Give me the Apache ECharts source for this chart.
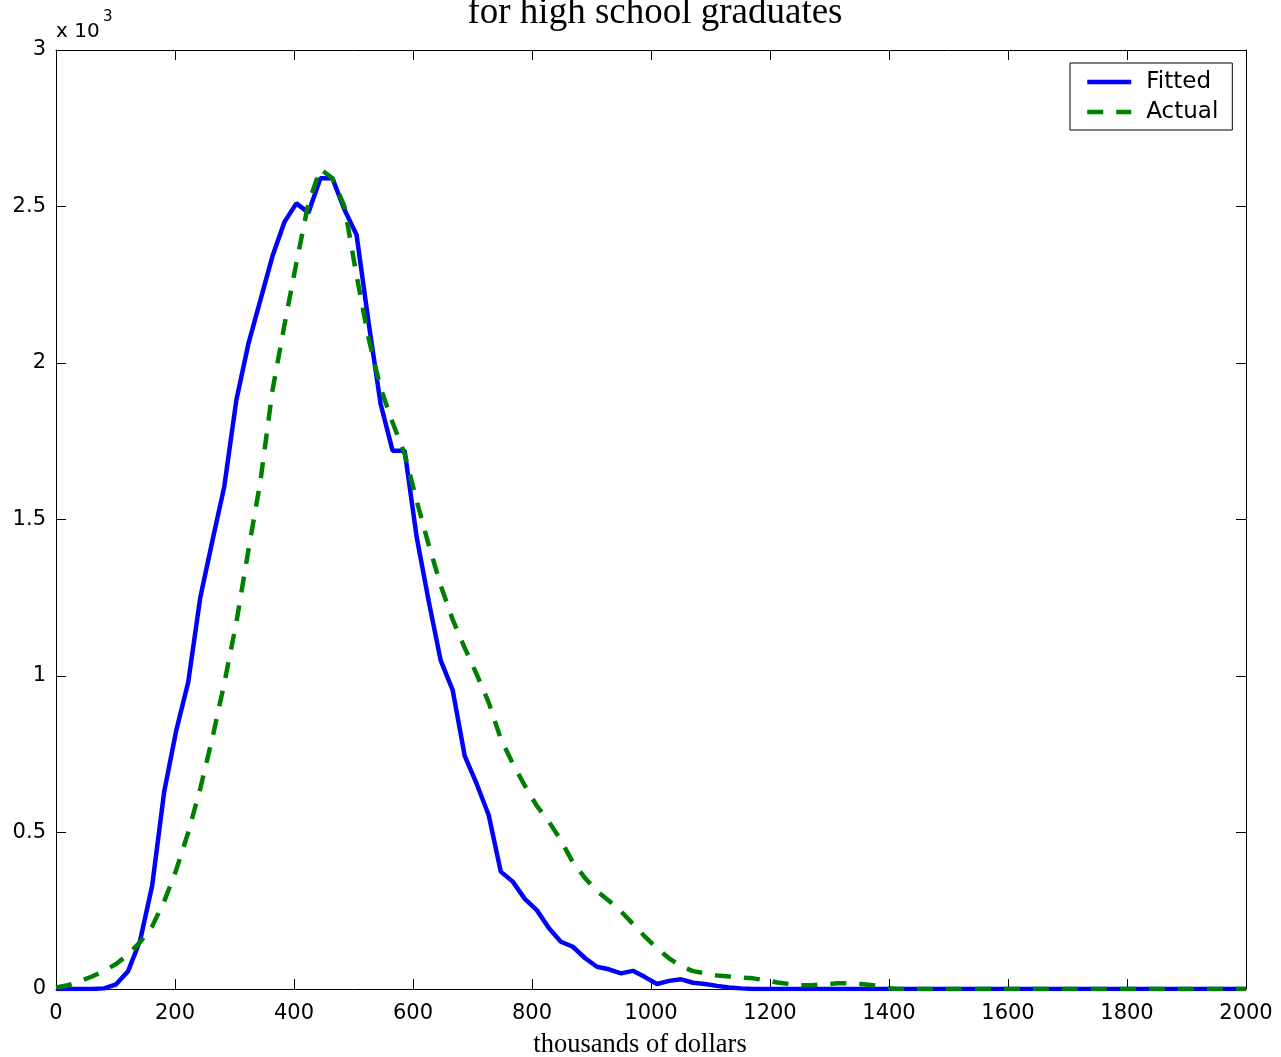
<!DOCTYPE html>
<html>
<head>
<meta charset="utf-8">
<script src="https://cdn.jsdelivr.net/npm/echarts@6/dist/echarts.min.js"></script>
<style>
  html, body { margin: 0; padding: 0; background: #ffffff; }
  #chart { width: 1281px; height: 1057px; }
</style>
</head>
<body>
<div id="chart"></div>
<script>
// Lifetime earnings grid, thousands of dollars
const earnings = [
  0, 20.2, 40.4, 60.6, 80.8, 101.0, 121.2, 141.4, 161.6, 181.8,
  202.0, 222.2, 242.4, 262.6, 282.8, 303.0, 323.2, 343.4, 363.6, 383.8,
  404.0, 424.2, 444.4, 464.6, 484.8, 505.1, 525.3, 545.5, 565.7, 585.9,
  606.1, 626.3, 646.5, 666.7, 686.9, 707.1, 727.3, 747.5, 767.7, 787.9,
  808.1, 828.3, 848.5, 868.7, 888.9, 909.1, 929.3, 949.5, 969.7, 989.9,
  1010.1, 1030.3, 1050.5, 1070.7, 1090.9, 1111.1, 1131.3, 1151.5, 1171.7, 1191.9,
  1212.1, 1232.3, 1252.5, 1272.7, 1292.9, 1313.1, 1333.3, 1353.5, 1373.7, 1393.9,
  1414.1, 1434.3, 1454.5, 1474.7, 1494.9, 1515.2, 1535.4, 1555.6, 1575.8, 1596.0,
  1616.2, 1636.4, 1656.6, 1676.8, 1697.0, 1717.2, 1737.4, 1757.6, 1777.8, 1798.0,
  1818.2, 1838.4, 1858.6, 1878.8, 1899.0, 1919.2, 1939.4, 1959.6, 1979.8, 2000
];

// Counts in thousands (axis shows x 10^3)
const fitted = [
  0, 0, 0, 0, 0.002, 0.015, 0.057, 0.155, 0.33, 0.63,
  0.825, 0.98, 1.25, 1.43, 1.605, 1.88, 2.06, 2.20, 2.34, 2.45,
  2.51, 2.48, 2.59, 2.59, 2.49, 2.41, 2.13, 1.87, 1.72, 1.72,
  1.445, 1.24, 1.05, 0.955, 0.745, 0.655, 0.555, 0.375, 0.343, 0.288,
  0.252, 0.195, 0.151, 0.135, 0.099, 0.071, 0.063, 0.05, 0.058, 0.038,
  0.016, 0.026, 0.031, 0.02, 0.016, 0.01, 0.005, 0.002, 0, 0,
  0, 0, 0, 0, 0, 0, 0, 0, 0, 0,
  0, 0, 0, 0, 0, 0, 0, 0, 0, 0,
  0, 0, 0, 0, 0, 0, 0, 0, 0, 0,
  0, 0, 0, 0, 0, 0, 0, 0, 0, 0
];

const actual = [
  0.005, 0.012, 0.025, 0.04, 0.058, 0.08, 0.11, 0.15, 0.2, 0.28,
  0.38, 0.50, 0.64, 0.80, 0.976, 1.17, 1.40, 1.62, 1.91, 2.12,
  2.32, 2.51, 2.62, 2.59, 2.50, 2.28, 2.08, 1.92, 1.81, 1.71,
  1.56, 1.42, 1.29, 1.18, 1.09, 1.005, 0.915, 0.80, 0.72, 0.65,
  0.585, 0.535, 0.475, 0.405, 0.355, 0.313, 0.282, 0.248, 0.208, 0.167,
  0.13, 0.098, 0.073, 0.057, 0.05, 0.043, 0.04, 0.037, 0.034, 0.028,
  0.021, 0.016, 0.012, 0.013, 0.015, 0.018, 0.018, 0.016, 0.012, 0.004,
  0, 0, 0, 0, 0, 0, 0, 0, 0, 0,
  0, 0, 0, 0, 0, 0, 0, 0, 0, 0,
  0, 0, 0, 0, 0, 0, 0, 0, 0, 0
];

const xTicks = { min: 0, max: 2000, interval: 200 };
const yTicks = { min: 0, max: 3, interval: 0.5 };

const toPairs = (xs, ys) => xs.map((x, i) => [x, ys[i]]);

const sansFont = 'DejaVu Sans';
const serifFont = 'Liberation Serif';

const chart = echarts.init(document.getElementById('chart'), null, { renderer: 'canvas' });

// fresh style objects per axis so nothing is shared between them
const tickStyle = () => ({ show: true, inside: true, length: 10, lineStyle: { color: '#000', width: 1 } });
const axisLineStyle = () => ({ show: true, onZero: false, lineStyle: { color: '#000', width: 1 } });
const plainNumber = v => String(v);

chart.setOption({
  backgroundColor: '#ffffff',
  animation: false,
  title: {
    text: 'for high school graduates',
    left: 650,
    textAlign: 'center',
    top: -10,
    textStyle: { fontFamily: serifFont, fontSize: 37, fontWeight: 'normal', color: '#000' }
  },
  grid: { left: 56, top: 50, width: 1190, height: 939, containLabel: false, outerBoundsMode: 'none' },
  legend: {
    orient: 'vertical',
    left: 1070,
    top: 63,
    padding: [6, 14, 5, 15],
    itemGap: 4,
    itemWidth: 44,
    itemHeight: 14,
    backgroundColor: '#ffffff',
    borderColor: '#000',
    borderWidth: 1,
    borderRadius: 0,
    itemStyle: { opacity: 0 },
    lineStyle: { width: 4.5 },
    textStyle: { fontFamily: sansFont, fontSize: 23, color: '#000', lineHeight: 26, padding: [0, 0, 0, 10] },
    data: ['Fitted', 'Actual']
  },
  xAxis: [
    {
      type: 'value', position: 'bottom',
      min: xTicks.min, max: xTicks.max, interval: xTicks.interval,
      name: 'thousands of dollars', nameLocation: 'middle', nameGap: 43,
      nameTextStyle: { fontFamily: serifFont, fontSize: 26.5, color: '#000', padding: [0, 22, 0, 0] },
      axisLine: axisLineStyle(), axisTick: tickStyle(),
      axisLabel: { fontFamily: sansFont, fontSize: 21, color: '#000', margin: 14, formatter: plainNumber },
      splitLine: { show: false }
    },
    {
      type: 'value', position: 'top',
      min: xTicks.min, max: xTicks.max, interval: xTicks.interval,
      axisLine: axisLineStyle(), axisTick: tickStyle(),
      axisLabel: { show: false }, splitLine: { show: false }
    }
  ],
  yAxis: [
    {
      type: 'value', position: 'left',
      min: yTicks.min, max: yTicks.max, interval: yTicks.interval,
      axisLine: axisLineStyle(), axisTick: tickStyle(),
      axisLabel: { fontFamily: sansFont, fontSize: 21, color: '#000', margin: 10, formatter: plainNumber },
      splitLine: { show: false }
    },
    {
      type: 'value', position: 'right',
      min: yTicks.min, max: yTicks.max, interval: yTicks.interval,
      axisLine: axisLineStyle(), axisTick: tickStyle(),
      axisLabel: { show: false }, splitLine: { show: false }
    }
  ],
  graphic: [
    {
      type: 'text', left: 56, top: 22,
      style: { text: 'x 10', fontFamily: sansFont, fontSize: 20, fill: '#000' }
    },
    {
      type: 'text', left: 103, top: 10,
      style: { text: '3', fontFamily: sansFont, fontSize: 15, fill: '#000' }
    }
  ],
  series: [
    {
      name: 'Fitted', type: 'line',
      xAxisIndex: 0, yAxisIndex: 0,
      data: toPairs(earnings, fitted),
      symbol: 'none', smooth: false,
      lineStyle: { color: '#0000ff', width: 4.5, type: 'solid' },
      itemStyle: { color: '#0000ff' },
      z: 3
    },
    {
      name: 'Actual', type: 'line',
      xAxisIndex: 0, yAxisIndex: 0,
      data: toPairs(earnings, actual),
      symbol: 'none', smooth: false,
      lineStyle: { color: '#008000', width: 4.5, type: [16, 13] },
      itemStyle: { color: '#008000' },
      z: 4
    }
  ]
});
</script>
</body>
</html>
